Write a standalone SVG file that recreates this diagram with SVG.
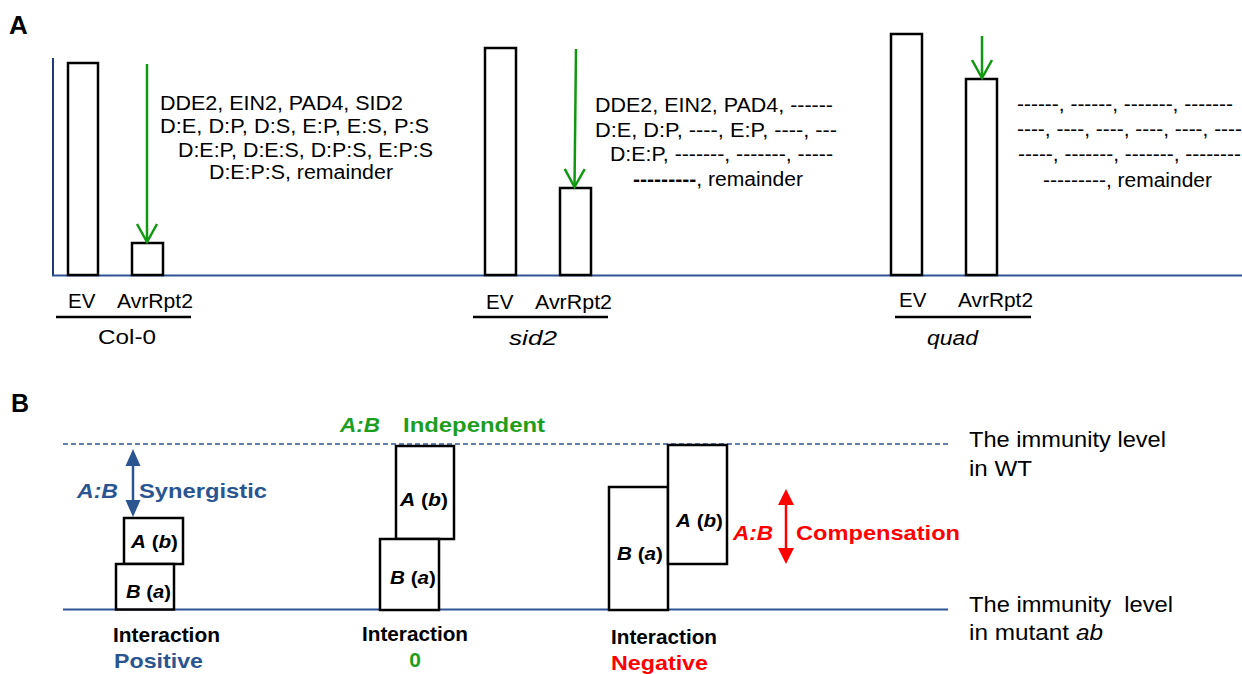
<svg xmlns="http://www.w3.org/2000/svg" width="1242" height="674" viewBox="0 0 1242 674">
<style>
text{font-family:"Liberation Sans",Arial,sans-serif;fill:#000}
.pl{font-size:26px;font-weight:bold}
.gt{font-size:19.5px}
.lb{font-size:20.5px}
.bar{fill:#fff;stroke:#000;stroke-width:2.5}
.box{fill:#fff;stroke:#000;stroke-width:2.5}
.ul{stroke:#000;stroke-width:2.5}
.garrow{stroke:#109910;stroke-width:2.5;fill:none;marker-end:url(#vee)}
.bx{font-size:19px;font-weight:bold}
.bold{font-weight:bold}
.it{font-style:italic}
.blue{fill:#2B5591}
.green{fill:#1E9E1E}
.red{fill:#FF0000}
.lvl{font-size:22px}
</style>
<defs>
<marker id="vee" markerUnits="userSpaceOnUse" viewBox="-22 -12 26 24" refX="0" refY="0" markerWidth="26" markerHeight="24" orient="auto" overflow="visible">
<polyline points="-18,-10 0,0 -18,10" fill="none" stroke="#109910" stroke-width="2.5"/>
</marker>
<marker id="triB" markerUnits="userSpaceOnUse" viewBox="-16 -9 22 18" refX="0" refY="0" markerWidth="22" markerHeight="18" orient="auto-start-reverse" overflow="visible">
<polygon points="-13,-7.5 4,0 -13,7.5" fill="#2B5591"/>
</marker>
<marker id="triR" markerUnits="userSpaceOnUse" viewBox="-16 -9 22 18" refX="0" refY="0" markerWidth="22" markerHeight="18" orient="auto-start-reverse" overflow="visible">
<polygon points="-12,-8 4,0 -12,8" fill="#FF0000"/>
</marker>
</defs>
<rect width="1242" height="674" fill="#fff"/>

<!-- Panel A -->
<text class="pl" x="9" y="34">A</text>
<g id="axesA">
<line x1="53" y1="58" x2="53" y2="275.5" stroke="#1F3A7A" stroke-width="2"/>
<line x1="52" y1="275.5" x2="1242" y2="275.5" stroke="#2F5597" stroke-width="2"/>
</g>

<g id="col0">
<rect id="col0-ev" class="bar" x="68" y="63" width="30" height="212"/>
<rect id="col0-avr" class="bar" x="132" y="243" width="31" height="32"/>
<text class="gt" x="160" y="110" textLength="243" lengthAdjust="spacingAndGlyphs">DDE2, EIN2, PAD4, SID2</text>
<text class="gt" x="160" y="133" textLength="269" lengthAdjust="spacingAndGlyphs">D:E, D:P, D:S, E:P, E:S, P:S</text>
<text class="gt" x="178" y="157" textLength="255" lengthAdjust="spacingAndGlyphs">D:E:P, D:E:S, D:P:S, E:P:S</text>
<text class="gt" x="209" y="179" textLength="184" lengthAdjust="spacingAndGlyphs">D:E:P:S, remainder</text>
<text class="lb" x="68" y="308">EV</text>
<text class="lb" x="117" y="308" textLength="76" lengthAdjust="spacingAndGlyphs">AvrRpt2</text>
<line class="ul" x1="56" y1="317" x2="191" y2="317"/>
<text class="lb" x="98" y="344" textLength="58" lengthAdjust="spacingAndGlyphs">Col-0</text>
</g>

<g id="sid2">
<rect id="sid2-ev" class="bar" x="485" y="48" width="31" height="227"/>
<rect id="sid2-avr" class="bar" x="560" y="188" width="31" height="87"/>
<text class="gt" x="595" y="112" textLength="238" lengthAdjust="spacingAndGlyphs">DDE2, EIN2, PAD4, ------</text>
<text class="gt" x="595" y="137" textLength="242" lengthAdjust="spacingAndGlyphs">D:E, D:P, ----, E:P, ----, ---</text>
<text class="gt" x="610" y="161" textLength="223" lengthAdjust="spacingAndGlyphs">D:E:P, -------, -------, -----</text>
<text class="gt" x="633" y="186" textLength="170" lengthAdjust="spacingAndGlyphs"><tspan class="bold">---------</tspan>, remainder</text>
<text class="lb" x="486" y="309">EV</text>
<text class="lb" x="535" y="309" textLength="77" lengthAdjust="spacingAndGlyphs">AvrRpt2</text>
<line class="ul" x1="473" y1="317" x2="608" y2="317"/>
<text class="lb it" x="509" y="345" textLength="48" lengthAdjust="spacingAndGlyphs">sid2</text>
</g>

<g id="quad">
<rect id="quad-ev" class="bar" x="891" y="34" width="31" height="241"/>
<rect id="quad-avr" class="bar" x="966" y="79" width="31" height="196"/>
<text class="gt" x="1017" y="111" textLength="216" lengthAdjust="spacingAndGlyphs">------, ------, -------, -------</text>
<text class="gt" x="1017" y="136" textLength="225" lengthAdjust="spacingAndGlyphs">----, ----, ----, ----, ----, ----</text>
<text class="gt" x="1018" y="161" textLength="223" lengthAdjust="spacingAndGlyphs">-----, -------, -------, --------</text>
<text class="gt" x="1043" y="187" textLength="169" lengthAdjust="spacingAndGlyphs">---------, remainder</text>
<text class="lb" x="899" y="307">EV</text>
<text class="lb" x="958" y="307" textLength="75" lengthAdjust="spacingAndGlyphs">AvrRpt2</text>
<line class="ul" x1="895" y1="317" x2="1031" y2="317"/>
<text class="lb it" x="927" y="345" textLength="51" lengthAdjust="spacingAndGlyphs">quad</text>
</g>

<g id="connectorsA">
<line class="garrow" x1="147" y1="64" x2="147" y2="242"/>
<line class="garrow" x1="576" y1="49" x2="574.5" y2="187"/>
<line class="garrow" x1="982" y1="36" x2="982" y2="78"/>
</g>

<!-- Panel B -->
<text class="pl" x="11" y="412" style="font-size:25px">B</text>
<g id="levels">
<line x1="63" y1="444" x2="948" y2="444" stroke="#2F5597" stroke-width="1.6" stroke-dasharray="5,3"/>
<line x1="63" y1="609.5" x2="948" y2="609.5" stroke="#2F5597" stroke-width="2"/>
<text class="lvl" x="969" y="447" textLength="197" lengthAdjust="spacingAndGlyphs">The immunity level</text>
<text class="lvl" x="969" y="476" textLength="63" lengthAdjust="spacingAndGlyphs">in WT</text>
<text class="lvl" x="969" y="612" textLength="204" lengthAdjust="spacingAndGlyphs" xml:space="preserve">The immunity  level</text>
<text class="lvl" x="969" y="640" textLength="134" lengthAdjust="spacingAndGlyphs">in mutant <tspan class="it">ab</tspan></text>
</g>

<g id="synergistic">
<rect class="box" x="124" y="518" width="59" height="46"/>
<rect class="box" x="116" y="564" width="58" height="45.5"/>
<text class="bx" x="131" y="548" textLength="47" lengthAdjust="spacingAndGlyphs"><tspan class="it">A</tspan> (<tspan class="it">b</tspan>)</text>
<text class="bx" x="126" y="598" textLength="45" lengthAdjust="spacingAndGlyphs"><tspan class="it">B</tspan> (<tspan class="it">a</tspan>)</text>
<text class="bold blue it" x="77" y="498" style="font-size:21px" textLength="41" lengthAdjust="spacingAndGlyphs">A:B</text>
<text class="bold blue" x="139" y="498" style="font-size:21px" textLength="128" lengthAdjust="spacingAndGlyphs">Synergistic</text>
<text class="bold" x="113" y="642" style="font-size:19.5px" textLength="107" lengthAdjust="spacingAndGlyphs">Interaction</text>
<text class="bold blue" x="114" y="668" style="font-size:21px" textLength="89" lengthAdjust="spacingAndGlyphs">Positive</text>
</g>

<g id="independent">
<rect class="box" x="396" y="446" width="58" height="93"/>
<rect class="box" x="380" y="539" width="59" height="71"/>
<text class="bx" x="400" y="506" textLength="48" lengthAdjust="spacingAndGlyphs"><tspan class="it">A</tspan> (<tspan class="it">b</tspan>)</text>
<text class="bx" x="390" y="584" textLength="46" lengthAdjust="spacingAndGlyphs"><tspan class="it">B</tspan> (<tspan class="it">a</tspan>)</text>
<text class="bold green it" x="340" y="432" style="font-size:21px" textLength="40" lengthAdjust="spacingAndGlyphs">A:B</text>
<text class="bold green" x="403" y="432" style="font-size:21px" textLength="142" lengthAdjust="spacingAndGlyphs">Independent</text>
<text class="bold" x="362" y="641" style="font-size:19.5px" textLength="106" lengthAdjust="spacingAndGlyphs">Interaction</text>
<text class="bold green" x="415" y="667" style="font-size:21px" text-anchor="middle">0</text>
</g>

<g id="compensation">
<rect class="box" x="609" y="487" width="59" height="123"/>
<rect class="box" x="668" y="445" width="59" height="119"/>
<text class="bx" x="617" y="560" textLength="46" lengthAdjust="spacingAndGlyphs"><tspan class="it">B</tspan> (<tspan class="it">a</tspan>)</text>
<text class="bx" x="676" y="527" textLength="47" lengthAdjust="spacingAndGlyphs"><tspan class="it">A</tspan> (<tspan class="it">b</tspan>)</text>
<text class="bold red it" x="733" y="540" style="font-size:21px" textLength="40" lengthAdjust="spacingAndGlyphs">A:B</text>
<text class="bold red" x="796" y="540" style="font-size:21px" textLength="164" lengthAdjust="spacingAndGlyphs">Compensation</text>
<text class="bold" x="611" y="644" style="font-size:19.5px" textLength="106" lengthAdjust="spacingAndGlyphs">Interaction</text>
<text class="bold red" x="611" y="670" style="font-size:21px" textLength="97" lengthAdjust="spacingAndGlyphs">Negative</text>
</g>

<g id="connectorsB">
<line x1="133" y1="453" x2="133" y2="513" stroke="#2B5591" stroke-width="2.5" marker-start="url(#triB)" marker-end="url(#triB)"/>
<line x1="786" y1="493" x2="786" y2="560" stroke="#FF0000" stroke-width="2.5" marker-start="url(#triR)" marker-end="url(#triR)"/>
</g>
</svg>
